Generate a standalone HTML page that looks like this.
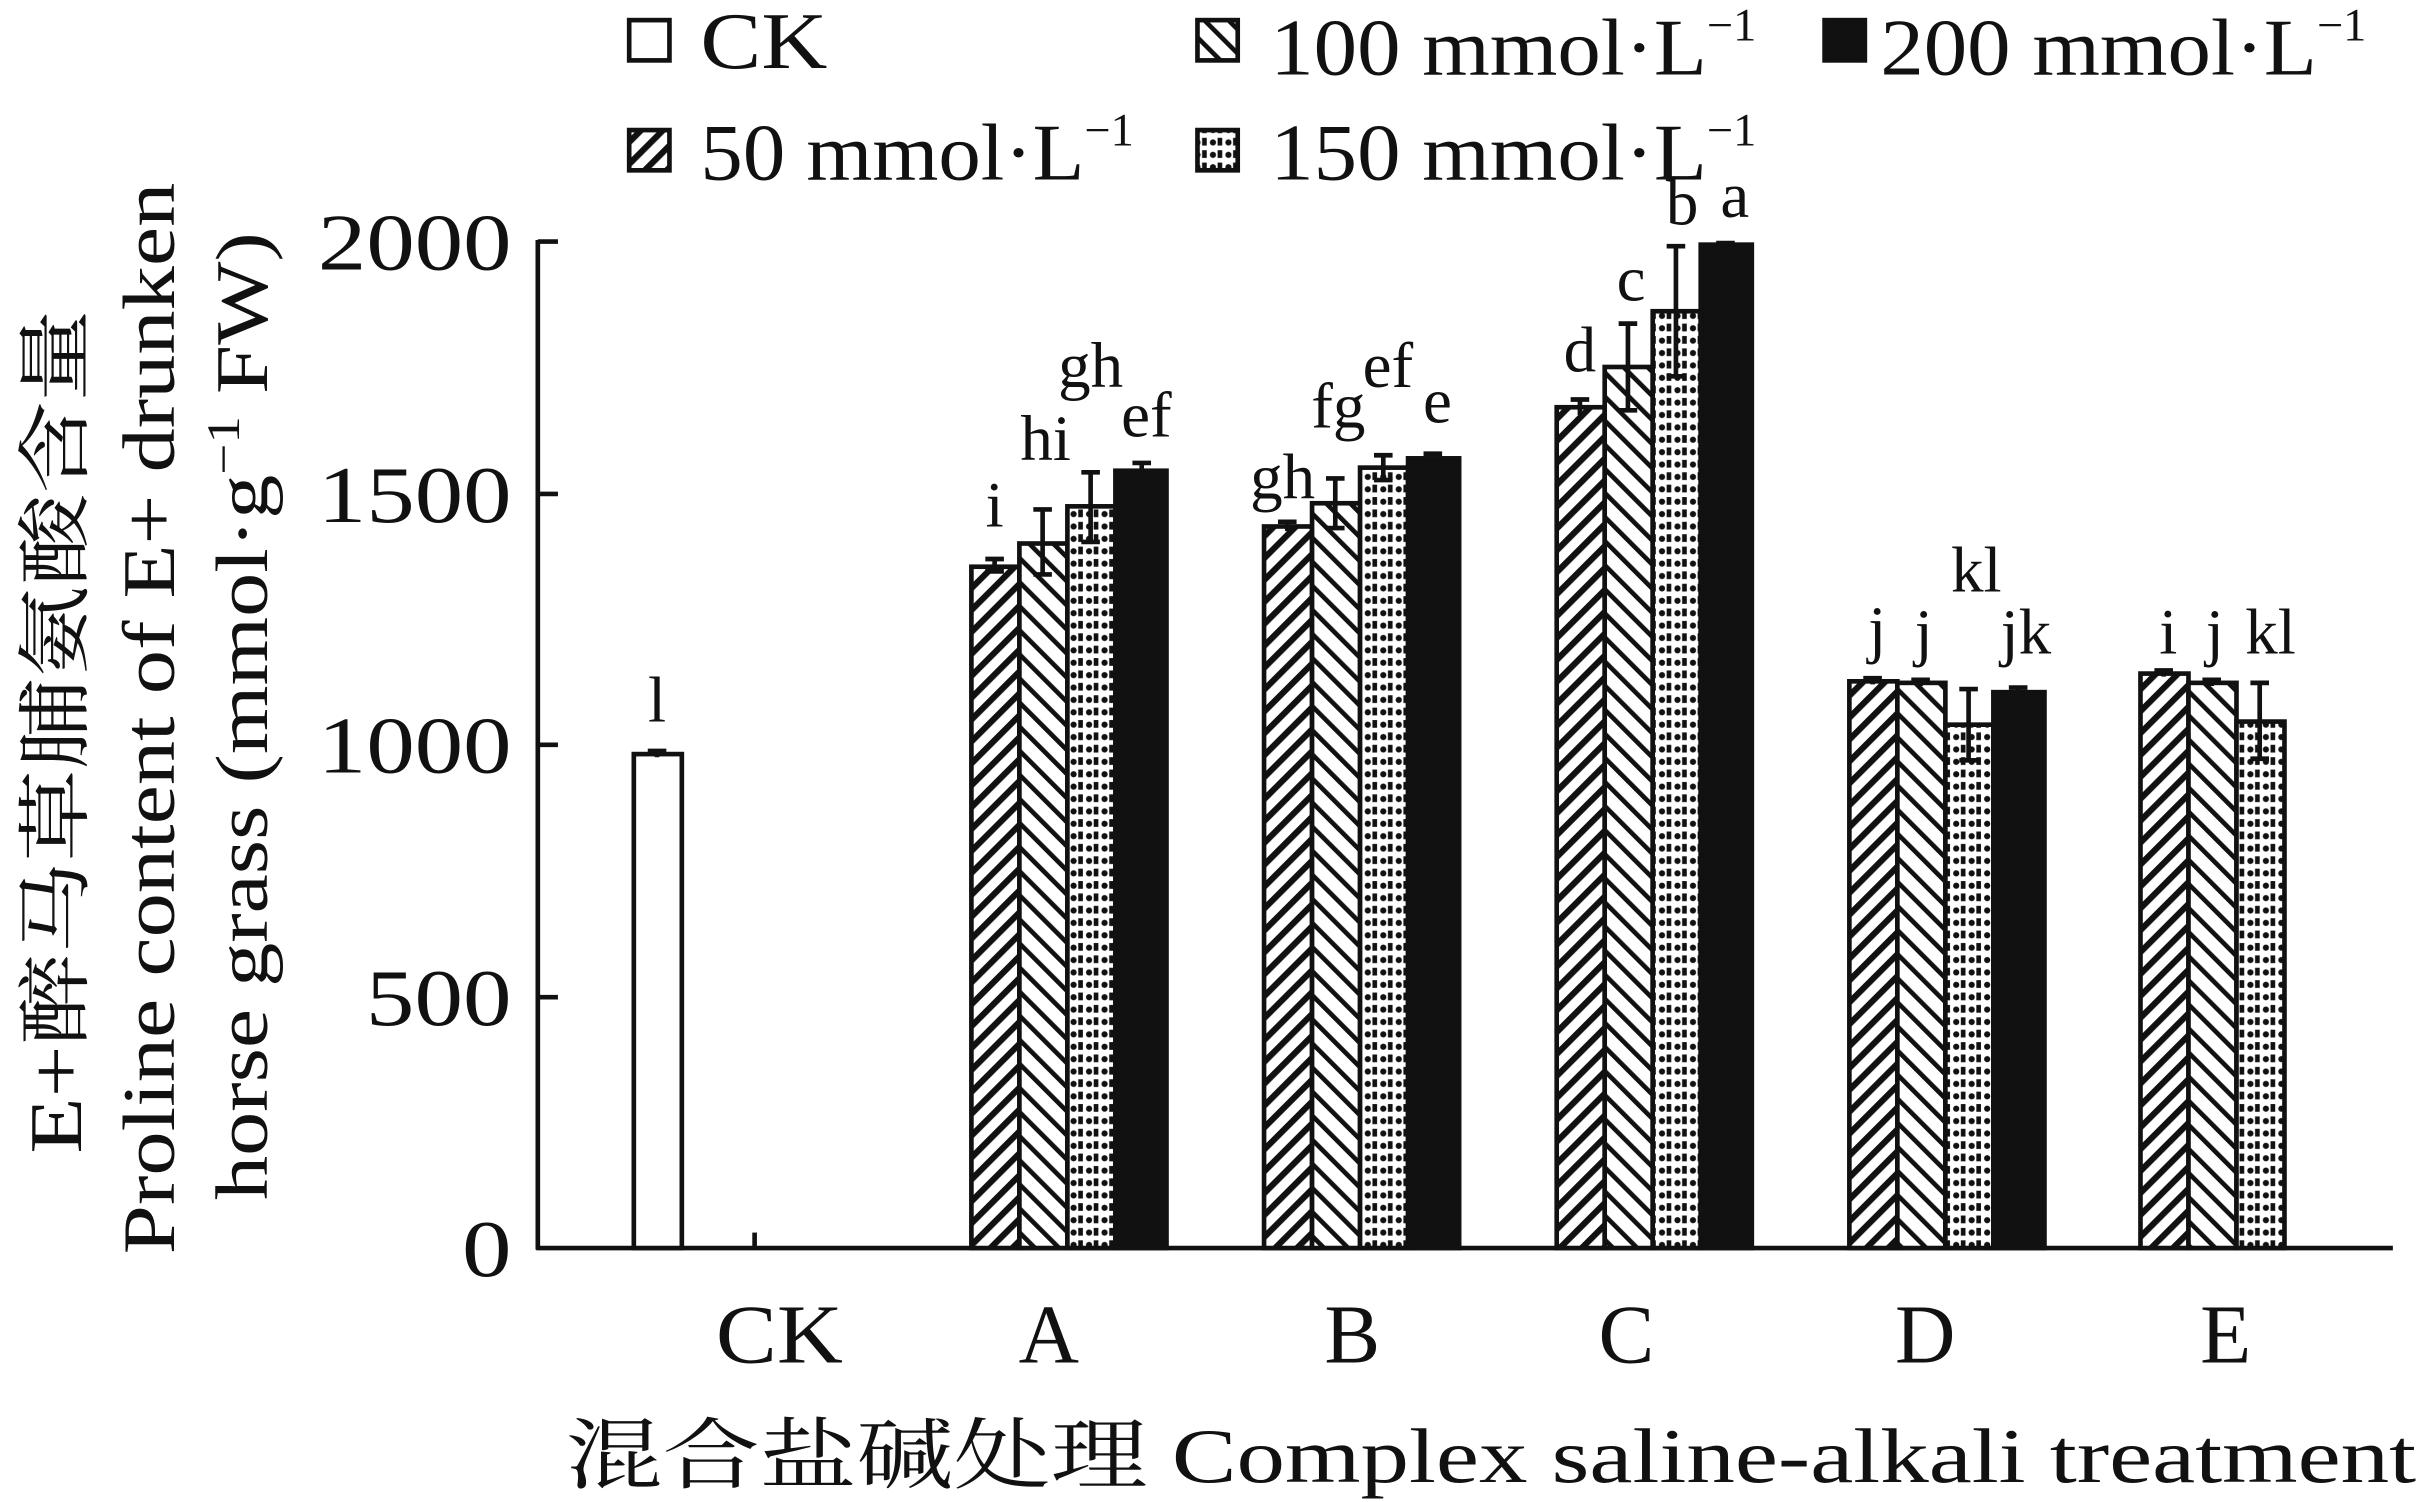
<!DOCTYPE html>
<html><head><meta charset="utf-8"><style>html,body{margin:0;padding:0;background:#fff}svg{display:block}</style></head>
<body>
<svg width="2429" height="1502" viewBox="0 0 1568 970" xmlns="http://www.w3.org/2000/svg" font-family="Liberation Serif, 'Noto Serif CJK SC', serif" fill="#111">
<defs>
<pattern id="p50" width="10" height="10" patternUnits="userSpaceOnUse" patternTransform="rotate(45)"><rect width="10" height="10" fill="#fff"/><rect width="4" height="10" fill="#111"/></pattern>
<pattern id="p100" width="11" height="11" patternUnits="userSpaceOnUse" patternTransform="rotate(-45)"><rect width="11" height="11" fill="#fff"/><rect width="3" height="11" fill="#111"/></pattern>
<pattern id="p150" width="10" height="8" patternUnits="userSpaceOnUse"><rect width="10" height="8" fill="#fff"/><rect x="1" y="2" width="4" height="4" rx="2" fill="#111"/><rect x="6" y="1" width="3" height="5" fill="#111"/></pattern>
</defs>
<g stroke="#111" stroke-width="3" fill="none">
<line x1="347" y1="155" x2="347" y2="807"/>
<line x1="346" y1="806" x2="1545" y2="806"/>
<line x1="347" y1="156" x2="360" y2="156"/><line x1="347" y1="319" x2="360" y2="319"/><line x1="347" y1="481" x2="360" y2="481"/><line x1="347" y1="644" x2="360" y2="644"/>
<line x1="487" y1="796" x2="487" y2="806"/>
</g>
<g font-size="52" text-anchor="end" lengthAdjust="spacingAndGlyphs">
<text x="330" y="174" textLength="125" lengthAdjust="spacingAndGlyphs">2000</text><text x="330" y="337" textLength="125" lengthAdjust="spacingAndGlyphs">1500</text><text x="330" y="499" textLength="125" lengthAdjust="spacingAndGlyphs">1000</text><text x="330" y="662" textLength="94" lengthAdjust="spacingAndGlyphs">500</text><text x="330" y="824" textLength="32" lengthAdjust="spacingAndGlyphs">0</text>
</g>
<g font-size="54" text-anchor="middle">
<text x="503" y="880" textLength="82" lengthAdjust="spacingAndGlyphs">CK</text><text x="677" y="880">A</text><text x="873" y="880">B</text><text x="1050" y="880">C</text><text x="1243" y="880">D</text><text x="1437" y="880">E</text>
</g>
<text x="365" y="957" font-size="50" textLength="1195" lengthAdjust="spacingAndGlyphs">混合盐碱处理 Complex saline-alkali treatment</text>
<g transform="rotate(-90)" font-size="48">
<text x="-745" y="52" textLength="545" lengthAdjust="spacingAndGlyphs">E+醉马草脯氨酸含量</text>
<text x="-810" y="112" textLength="692" lengthAdjust="spacingAndGlyphs">Proline content of E+ drunken</text>
<text x="-775" y="172" textLength="625" lengthAdjust="spacingAndGlyphs">horse grass (mmol·g<tspan font-size="30" dy="-18">−1</tspan><tspan dy="18"> FW)</tspan></text>
</g>
<!-- legend -->
<g stroke="#111" stroke-width="3">
<rect x="406" y="13" width="26" height="26" fill="#fff"/>
<rect x="406" y="84" width="26" height="26" fill="url(#p50)"/>
<rect x="773" y="13" width="26" height="26" fill="url(#p100)"/>
<rect x="773" y="84" width="26" height="26" fill="url(#p150)"/>
<rect x="1178" y="13" width="26" height="26" fill="#111"/>
</g>
<g font-size="52">
<text x="452" y="44" textLength="82" lengthAdjust="spacingAndGlyphs">CK</text>
<text x="452" y="116"><tspan textLength="248" lengthAdjust="spacingAndGlyphs">50 mmol·L</tspan><tspan font-size="30" dy="-22">−1</tspan></text>
<text x="820" y="48"><tspan textLength="282" lengthAdjust="spacingAndGlyphs">100 mmol·L</tspan><tspan font-size="30" dy="-22">−1</tspan></text>
<text x="820" y="116"><tspan textLength="282" lengthAdjust="spacingAndGlyphs">150 mmol·L</tspan><tspan font-size="30" dy="-22">−1</tspan></text>
<text x="1214" y="48"><tspan textLength="282" lengthAdjust="spacingAndGlyphs">200 mmol·L</tspan><tspan font-size="30" dy="-22">−1</tspan></text>
</g>
<!-- bars -->
<g stroke="#111" stroke-width="3">
<rect x="409" y="487" width="31" height="319" fill="#fff"/>
<rect x="627" y="366" width="31" height="440" fill="url(#p50)"/>
<rect x="658" y="351" width="31" height="455" fill="url(#p100)"/>
<rect x="689" y="327" width="31" height="479" fill="url(#p150)"/>
<rect x="720" y="304" width="33" height="502" fill="#111"/>
<rect x="816" y="340" width="31" height="466" fill="url(#p50)"/>
<rect x="847" y="325" width="31" height="481" fill="url(#p100)"/>
<rect x="878" y="302" width="31" height="504" fill="url(#p150)"/>
<rect x="909" y="296" width="33" height="510" fill="#111"/>
<rect x="1005" y="263" width="31" height="543" fill="url(#p50)"/>
<rect x="1036" y="237" width="31" height="569" fill="url(#p100)"/>
<rect x="1067" y="201" width="31" height="605" fill="url(#p150)"/>
<rect x="1098" y="158" width="33" height="648" fill="#111"/>
<rect x="1194" y="440" width="31" height="366" fill="url(#p50)"/>
<rect x="1225" y="441" width="31" height="365" fill="url(#p100)"/>
<rect x="1256" y="468" width="31" height="338" fill="url(#p150)"/>
<rect x="1287" y="447" width="33" height="359" fill="#111"/>
<rect x="1382" y="435" width="31" height="371" fill="url(#p50)"/>
<rect x="1413" y="441" width="31" height="365" fill="url(#p100)"/>
<rect x="1444" y="466" width="31" height="340" fill="url(#p150)"/>
</g>
<!-- error bars -->
<g stroke="#111" stroke-width="3">
<path d="M424 485v4M418 485h12"/>
<path d="M642 361v8M636 361h12M636 369h12"/>
<path d="M673 329v42M667 329h12M667 371h12"/>
<path d="M704 305v45M698 305h12M698 350h12"/>
<path d="M737 299v8M731 299h12"/>
<path d="M831 337v6M825 337h12"/>
<path d="M862 309v32M856 309h12M856 341h12"/>
<path d="M893 294v16M887 294h12M887 310h12"/>
<path d="M925 293v6M919 293h12"/>
<path d="M1020 258v10M1014 258h12"/>
<path d="M1051 209v56M1045 209h12M1045 265h12"/>
<path d="M1082 159v84M1076 159h12M1076 243h12"/>
<path d="M1114 157v3M1108 157h12"/>
<path d="M1209 438v4M1203 438h12"/>
<path d="M1240 439v4M1234 439h12"/>
<path d="M1271 445v46M1265 445h12M1265 491h12"/>
<path d="M1303 444v6M1297 444h12"/>
<path d="M1397 433v4M1391 433h12"/>
<path d="M1428 439v4M1422 439h12"/>
<path d="M1459 441v49M1453 441h12M1453 490h12"/>
</g>
<g font-size="42" text-anchor="middle">
<text x="424" y="466">l</text>
<text x="642" y="340">i</text><text x="675" y="297">hi</text><text x="704" y="250">gh</text><text x="740" y="282">ef</text>
<text x="828" y="322">gh</text><text x="864" y="276">fg</text><text x="896" y="250">ef</text><text x="928" y="273">e</text>
<text x="1020" y="240">d</text><text x="1053" y="194">c</text><text x="1086" y="145">b</text><text x="1120" y="140">a</text>
<text x="1212" y="420">j</text><text x="1242" y="422">j</text><text x="1276" y="382">kl</text><text x="1308" y="422">jk</text>
<text x="1400" y="422">i</text><text x="1430" y="422">j</text><text x="1466" y="422">kl</text>
</g>
</svg>
</body></html>
